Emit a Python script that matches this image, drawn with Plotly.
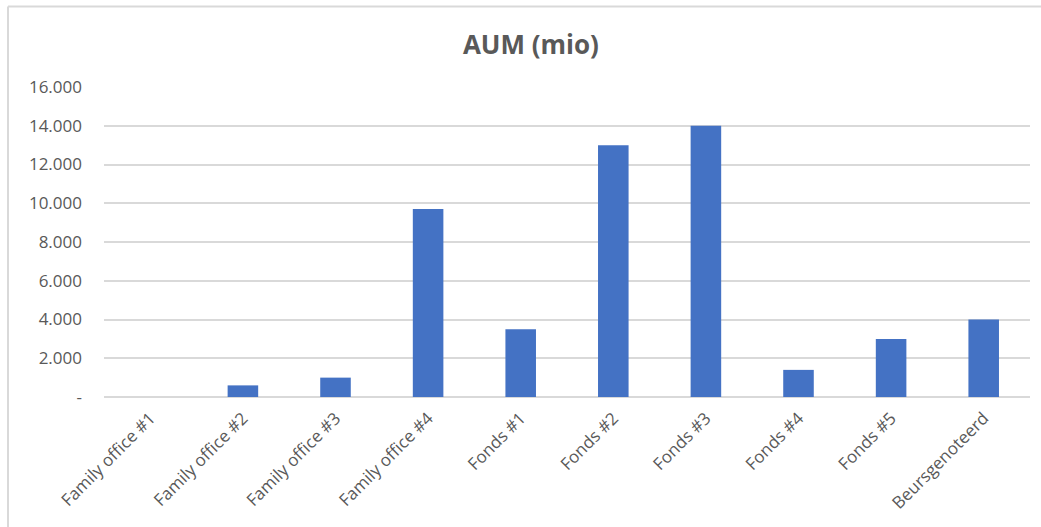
import plotly.graph_objects as go

categories = ["Family office #1", "Family office #2", "Family office #3", "Family office #4",
              "Fonds #1", "Fonds #2", "Fonds #3", "Fonds #4", "Fonds #5", "Beursgenoteerd"]
aum = [0, 600, 1000, 9700, 3500, 13000, 14000, 1400, 3000, 4000]
y_tickvals = [0, 2000, 4000, 6000, 8000, 10000, 12000, 14000, 16000]
y_ticktext = ["-", "2.000", "4.000", "6.000", "8.000", "10.000", "12.000", "14.000", "16.000"]

W, H = 1041, 527
L, R, T, B = 104, 11, 87, 130
pw, ph = W - L - R, H - T - B

def px_x(x):
    return (x - L) / pw

def px_y(y):
    return (H - B - y) / ph

fig = go.Figure(go.Bar(x=categories, y=aum, marker=dict(color="#4472C4", line=dict(width=0)),
                       hoverinfo="x+y"))

border = dict(color="#D9D9D9", width=2)
fig.update_layout(
    width=W, height=H,
    margin=dict(l=L, r=R, t=T, b=B),
    paper_bgcolor="white", plot_bgcolor="white",
    bargap=0.67,
    font=dict(family="Open Sans", color="#595959", size=17),
    title=dict(text="<b>AUM (mio)</b>", x=0.51, xanchor="center", y=1 - 45 / H, yanchor="middle",
               font=dict(family="Open Sans", size=26, color="#595959")),
    xaxis=dict(tickangle=-45, showgrid=False, showline=False, ticks="",
               ticklabelstandoff=7, tickfont=dict(size=17, color="#595959")),
    yaxis=dict(range=[0, 16000], tickvals=y_tickvals, ticktext=y_ticktext,
               showgrid=True, gridcolor="#D9D9D9", gridwidth=1.5, zeroline=True,
               zerolinecolor="#D9D9D9", zerolinewidth=1.5, showline=False, ticks="",
               ticklabelstandoff=21, tickfont=dict(size=17, color="#595959")),
    shapes=[
        dict(type="line", xref="paper", yref="paper", x0=px_x(8), x1=px_x(W + 5),
             y0=px_y(6.5), y1=px_y(6.5), line=border),
        dict(type="line", xref="paper", yref="paper", x0=px_x(8), x1=px_x(8),
             y0=px_y(6.5), y1=px_y(H + 5), line=border),
    ],
    showlegend=False,
)

fig.write_html("out.html")
